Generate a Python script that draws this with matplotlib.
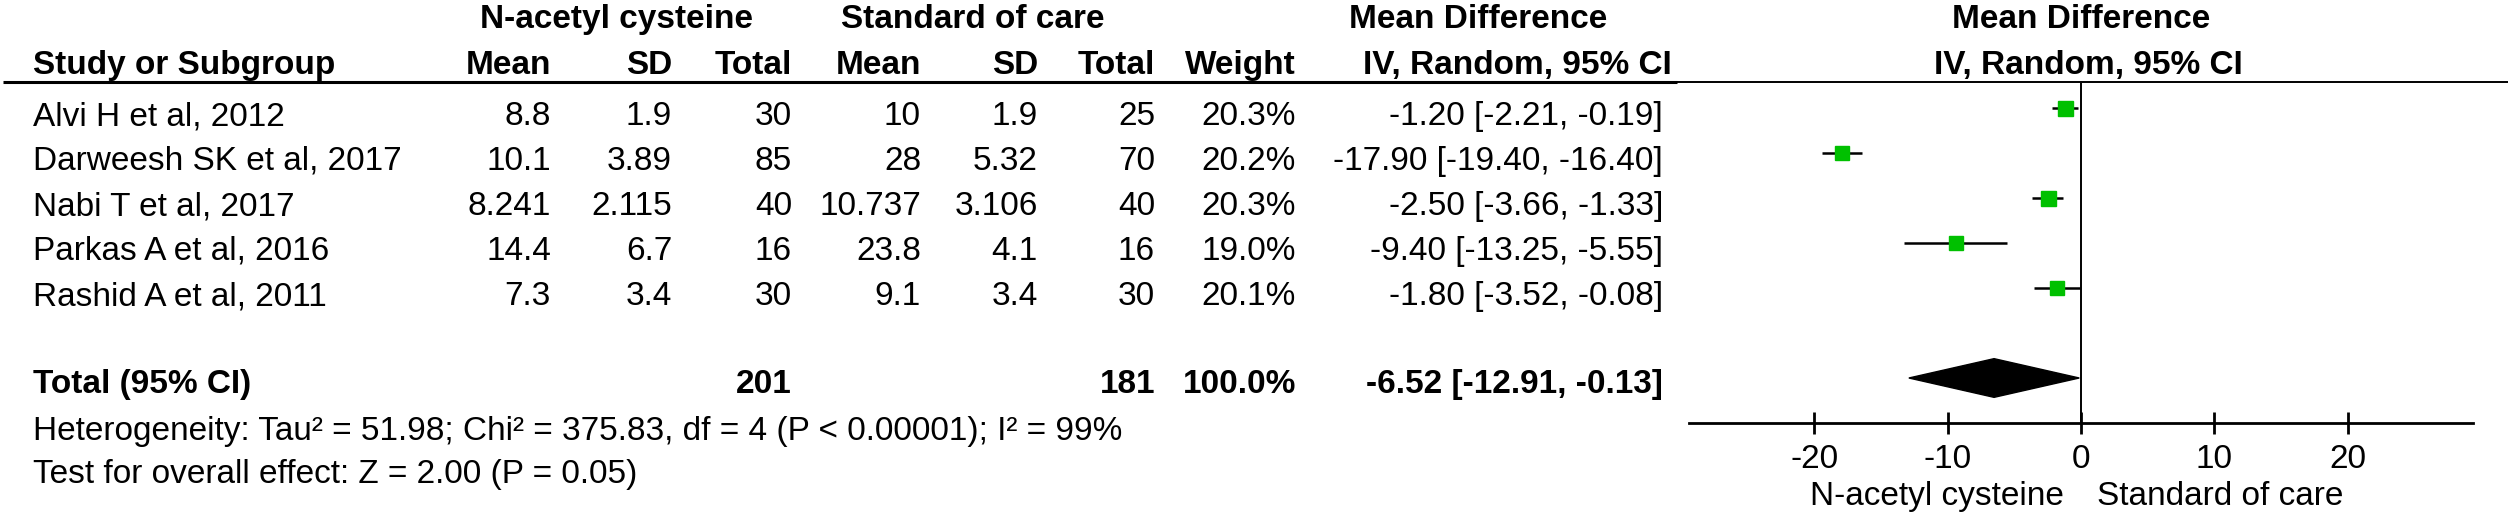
#!/usr/bin/env python

import matplotlib
matplotlib.use('Agg')
import matplotlib.pyplot as plt
import numpy as np

plt.rcParams['font.family'] = ['Liberation Sans', 'DejaVu Sans']

# data
studies = ['Alvi H et al, 2012', 'Darweesh SK et al, 2017', 'Nabi T et al, 2017',
           'Parkas A et al, 2016', 'Rashid A et al, 2011']
nac_mean = [8.8, 10.1, 8.241, 14.4, 7.3]
nac_sd = [1.9, 3.89, 2.115, 6.7, 3.4]
nac_total = [30, 85, 40, 16, 30]
soc_mean = [10, 28, 10.737, 23.8, 9.1]
soc_sd = [1.9, 5.32, 3.106, 4.1, 3.4]
soc_total = [25, 70, 40, 16, 30]
weights = [20.3, 20.2, 20.3, 19.0, 20.1]
md = [-1.20, -17.90, -2.50, -9.40, -1.80]
md_lo = [-2.21, -19.40, -3.66, -13.25, -3.52]
md_hi = [-0.19, -16.40, -1.33, -5.55, -0.08]

total_nac = 201
total_soc = 181
total_weight = 100.0
total_md = -6.52
total_lo = -12.91
total_hi = -0.13

heterogeneity = 'Heterogeneity: Tau² = 51.98; Chi² = 375.83, df = 4 (P < 0.00001); I² = 99%'
overall = 'Test for overall effect: Z = 2.00 (P = 0.05)'
xticks = [-20, -10, 0, 10, 20]

W, H = 2508, 517
FS = 24
GREEN = '#00c000'

fig = plt.figure(figsize=(W / 100, H / 100), dpi=100)

# table area in pixel coordinates
ax = fig.add_axes([0, 0, 1, 1])
ax.set_xlim(0, W)
ax.set_ylim(H, 0)
ax.axis('off')

# column right edges
cols = [551, 672, 792, 921, 1038, 1155, 1296, 1663]

# headers
ax.text(617, 28, 'N-acetyl cysteine', ha='center', va='baseline', fontsize=FS, fontweight='bold')
ax.text(973, 28, 'Standard of care', ha='center', va='baseline', fontsize=FS, fontweight='bold')
ax.text(1478, 28, 'Mean Difference', ha='center', va='baseline', fontsize=FS, fontweight='bold')
ax.text(2081, 28, 'Mean Difference', ha='center', va='baseline', fontsize=FS, fontweight='bold')
ax.text(33, 74, 'Study or Subgroup', ha='left', va='baseline', fontsize=FS, fontweight='bold')
for x, lab in zip(cols[:7], ['Mean', 'SD', 'Total', 'Mean', 'SD', 'Total', 'Weight']):
    ax.text(x, 74, lab, ha='right', va='baseline', fontsize=FS, fontweight='bold')
ax.text(1517, 74, 'IV, Random, 95% CI', ha='center', va='baseline', fontsize=FS, fontweight='bold')
ax.text(2088, 74, 'IV, Random, 95% CI', ha='center', va='baseline', fontsize=FS, fontweight='bold')

ax.plot([3, 1677], [82, 82], color='black', lw=2.2, solid_capstyle='butt')
ax.plot([1677, W], [82, 82], color='black', lw=1.4, solid_capstyle='butt')

# study rows
for i, name in enumerate(studies):
    yb = 125 + 45 * i
    ax.text(33, yb, name, ha='left', va='baseline', fontsize=FS)
    vals = [f'{nac_mean[i]:g}', f'{nac_sd[i]:g}', str(nac_total[i]),
            f'{soc_mean[i]:g}', f'{soc_sd[i]:g}', str(soc_total[i]),
            f'{weights[i]:.1f}%',
            f'{md[i]:.2f} [{md_lo[i]:.2f}, {md_hi[i]:.2f}]']
    for x, v in zip(cols, vals):
        ax.text(x, yb, v, ha='right', va='baseline', fontsize=FS)

# total row
yb = 393
ax.text(33, yb, 'Total (95% CI)', ha='left', va='baseline', fontsize=FS, fontweight='bold')
ax.text(cols[2], yb, str(total_nac), ha='right', va='baseline', fontsize=FS, fontweight='bold')
ax.text(cols[5], yb, str(total_soc), ha='right', va='baseline', fontsize=FS, fontweight='bold')
ax.text(cols[6], yb, f'{total_weight:.1f}%', ha='right', va='baseline', fontsize=FS, fontweight='bold')
ax.text(cols[7], yb, f'{total_md:.2f} [{total_lo:.2f}, {total_hi:.2f}]',
        ha='right', va='baseline', fontsize=FS, fontweight='bold')

ax.text(33, 440, heterogeneity, ha='left', va='baseline', fontsize=FS)
ax.text(33, 483, overall, ha='left', va='baseline', fontsize=FS)

ax.text(2064, 505, 'N-acetyl cysteine', ha='right', va='baseline', fontsize=FS)
ax.text(2097, 505, 'Standard of care', ha='left', va='baseline', fontsize=FS)

# forest plot
x0, x1 = 1689, 2473
ytop, ybot = 83, 423
axf = fig.add_axes([x0 / W, 1 - ybot / H, (x1 - x0) / W, (ybot - ytop) / H])
axf.patch.set_alpha(0)
axf.set_xlim(-29.4, 29.4)
axf.set_ylim(7.0, -0.556)
for s in ['top', 'left', 'right']:
    axf.spines[s].set_visible(False)
axf.spines['bottom'].set_linewidth(2.0)
axf.set_yticks([])
axf.set_xticks(xticks)
axf.set_xticklabels([str(t) for t in xticks])
axf.tick_params(axis='x', direction='inout', length=16, width=2, pad=7, labelsize=FS)

axf.axvline(0, color='black', lw=1.4, zorder=1)

rows = np.arange(len(studies))
axf.hlines(rows, md_lo, md_hi, color='black', lw=1.8, zorder=2)
for i in rows:
    ms = 10.8 * np.sqrt(weights[i] / 20.3)
    axf.plot(md[i], i, marker='s', ms=ms, color=GREEN, mec=GREEN, zorder=3)

yt = 6.0
h = 0.43
axf.fill([total_lo, total_md, total_hi, total_md], [yt, yt - h, yt, yt + h],
         color='black', zorder=3)

plt.savefig('out.png', dpi=100)
